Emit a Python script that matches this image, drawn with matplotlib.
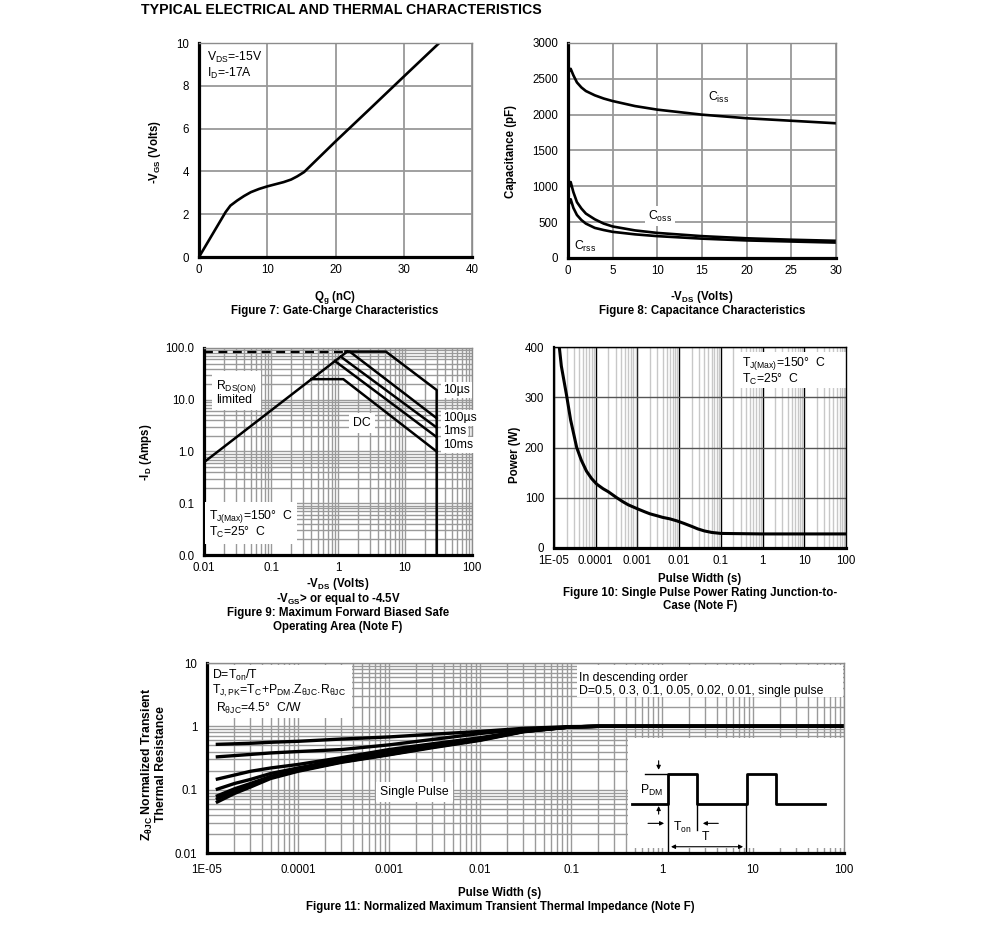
import matplotlib
matplotlib.use('Agg')
import matplotlib.pyplot as plt
import numpy as np
from matplotlib.patches import Rectangle
from matplotlib.ticker import LogLocator, NullFormatter, FuncFormatter

plt.rcParams['font.family'] = ['Liberation Sans', 'DejaVu Sans']
plt.rcParams['mathtext.fontset'] = 'custom'
plt.rcParams['mathtext.rm'] = 'Liberation Sans'
plt.rcParams['mathtext.default'] = 'regular'

TICK = 8.3
ANN = 8.8
LAB = 8.3

# figure 7 - gate charge
qg = [0, 3.9, 4.6, 5.6, 6.6, 7.6, 8.8, 10, 11.2, 12.4, 13.5, 14.4, 15.4, 20, 25, 30, 35.2]
vgs = [0, 2.1, 2.4, 2.64, 2.85, 3.03, 3.18, 3.3, 3.4, 3.5, 3.62, 3.77, 3.97, 5.4, 6.91, 8.43, 10]

# figure 8 - capacitance
vds_c = [0, 0.3, 0.6, 1, 1.5, 2, 3, 4, 5, 7.5, 10, 15, 20, 25, 30]
ciss = [2580, 2640, 2550, 2450, 2380, 2330, 2270, 2225, 2190, 2120, 2070, 2000, 1950, 1915, 1880]
coss = [950, 1060, 920, 780, 690, 620, 540, 480, 440, 385, 350, 305, 275, 255, 240]
crss = [720, 820, 700, 600, 530, 480, 420, 390, 365, 330, 305, 270, 245, 230, 215]

# figure 9 - safe operating area
rds_v = [0.01, 1.37]
rds_i = [0.62, 85]
lim_v = [0.01, 1.45]
lim_i = [85, 85]
us10_v = [1.3, 5.2, 29.7, 29.7]
us10_i = [85, 85, 15.4, 0.01]
us100_v = [1.3, 1.5, 29.7]
us100_i = [85, 85, 4.4]
ms1_v = [1.1, 29.7]
ms1_i = [68, 2.9]
ms10_v = [0.9, 29.7]
ms10_i = [56, 1.9]
dc_v = [0.40, 1.2, 29.7]
dc_i = [25, 25, 1.0]
soa_ticks = [0.01, 0.1, 1, 10, 100]
soa_xlabels = ['0.01', '0.1', '1', '10', '100']

# figure 10 - single pulse power
pw = [1.34e-5, 1.5e-5, 2e-5, 2.5e-5, 3.5e-5, 4.5e-5, 6e-5, 8e-5, 1.06e-4, 1.5e-4, 2e-4,
      3.2e-4, 4.5e-4, 6e-4, 1e-3, 1.5e-3, 2e-3, 3e-3, 4e-3, 6e-3, 8.8e-3, 1.3e-2, 2e-2,
      2.8e-2, 4e-2, 6e-2, 0.1, 1, 10, 100]
pwr = [400, 362, 304, 255, 200, 175, 153, 138, 127, 118, 112, 100, 92, 86, 78, 72, 68, 64,
       61, 58, 54, 49, 43, 38, 34, 31, 29, 28, 28, 28]
t_ticks = [1e-5, 1e-4, 1e-3, 1e-2, 0.1, 1, 10, 100]
t_labels = ['1E-05', '0.0001', '0.001', '0.01', '0.1', '1', '10', '100']

# figure 11 - transient thermal impedance
zt = [1.3e-5, 2e-5, 3e-5, 5e-5, 1e-4, 3e-4, 1e-3, 3e-3, 1e-2, 3e-2, 0.1, 0.2, 1, 10, 100]
z_d05 = [0.52, 0.53, 0.54, 0.56, 0.58, 0.63, 0.68, 0.75, 0.83, 0.93, 0.99, 1.0, 1.0, 1.0, 1.0]
z_d03 = [0.33, 0.345, 0.36, 0.38, 0.40, 0.43, 0.51, 0.62, 0.77, 0.90, 0.98, 1.0, 1.0, 1.0, 1.0]
z_d01 = [0.147, 0.17, 0.195, 0.22, 0.25, 0.32, 0.43, 0.53, 0.66, 0.85, 0.98, 1.0, 1.0, 1.0, 1.0]
z_d005 = [0.102, 0.125, 0.145, 0.18, 0.22, 0.30, 0.40, 0.50, 0.64, 0.84, 0.98, 1.0, 1.0, 1.0, 1.0]
z_d002 = [0.080, 0.103, 0.125, 0.162, 0.205, 0.28, 0.37, 0.48, 0.62, 0.83, 0.98, 1.0, 1.0, 1.0, 1.0]
z_d001 = [0.072, 0.095, 0.117, 0.155, 0.20, 0.275, 0.36, 0.47, 0.61, 0.83, 0.98, 1.0, 1.0, 1.0, 1.0]
z_single = [0.064, 0.087, 0.11, 0.15, 0.195, 0.27, 0.355, 0.46, 0.60, 0.82, 0.98, 1.0, 1.0, 1.0, 1.0]
z_yticks = [0.01, 0.1, 1, 10]
z_ylabels = ['0.01', '0.1', '1', '10']

# inset pulse sketch (axes fraction)
pulse_x = [0.667, 0.724, 0.724, 0.770, 0.770, 0.847, 0.847, 0.894, 0.894, 0.970]
pulse_y = [0.256, 0.256, 0.416, 0.416, 0.256, 0.256, 0.416, 0.416, 0.256, 0.256]

W, H = 991, 942
fig = plt.figure(figsize=(W / 100, H / 100), dpi=100)


def add_ax(r):
    l, t, rr, b = r
    return fig.add_axes([l / W, 1 - b / H, (rr - l) / W, (b - t) / H])


def afr(r, x, y):
    l, t, rr, b = r
    return (x - l) / (rr - l), (b - y) / (b - t)


def ftxt(x, y, s, **kw):
    kw.setdefault('ha', 'center')
    kw.setdefault('va', 'center')
    kw.setdefault('fontsize', LAB)
    fig.text(x / W, 1 - y / H, s, **kw)


def style(ax, edge='#8c8c8c'):
    for s in ['top', 'right']:
        ax.spines[s].set_color(edge)
        ax.spines[s].set_linewidth(1.0)
    for s in ['left', 'bottom']:
        ax.spines[s].set_color('black')
        ax.spines[s].set_linewidth(2.3)
    ax.tick_params(which='both', length=0, labelsize=TICK)
    ax.tick_params(axis='x', pad=5)
    ax.tick_params(axis='y', pad=7)
    ax.set_axisbelow(True)


def log_minor(ax):
    for a in [ax.xaxis, ax.yaxis]:
        a.set_minor_locator(LogLocator(base=10, subs=np.arange(2, 10), numticks=20))
        a.set_minor_formatter(NullFormatter())


ftxt(141, 10, 'TYPICAL ELECTRICAL AND THERMAL CHARACTERISTICS', ha='left',
     fontsize=10.2, fontweight='bold')

# ---- figure 7
R7 = (199, 43, 472, 257)
ax7 = add_ax(R7)
ax7.plot(qg, vgs, color='black', lw=1.9)
ax7.set_xlim(0, 40)
ax7.set_ylim(0, 10)
ax7.set_xticks([0, 10, 20, 30, 40])
ax7.set_yticks([0, 2, 4, 6, 8, 10])
ax7.grid(color='#999999', lw=1.3)
style(ax7)
ax7.text(*afr(R7, 207, 57), r'V$_{DS}$=-15V', fontsize=ANN, va='center', transform=ax7.transAxes)
ax7.text(*afr(R7, 207, 73), r'I$_{D}$=-17A', fontsize=ANN, va='center', transform=ax7.transAxes)
ftxt(155, 152, r'-V$_{GS}$ (Volts)', rotation=90, fontweight='bold')
ftxt(335, 297, r'Q$_{g}$ (nC)', fontweight='bold')
ftxt(335, 311, 'Figure 7: Gate-Charge Characteristics', fontweight='bold')

# ---- figure 8
R8 = (568, 43, 836, 258)
ax8 = add_ax(R8)
for c in [ciss, coss, crss]:
    ax8.plot(vds_c, c, color='black', lw=1.9)
ax8.set_xlim(0, 30)
ax8.set_ylim(0, 3000)
ax8.set_xticks(range(0, 31, 5))
ax8.set_yticks(range(0, 3001, 500))
ax8.grid(color='#999999', lw=1.3)
style(ax8)
ax8.text(*afr(R8, 708, 97), r'C$_{iss}$', fontsize=ANN, va='center', transform=ax8.transAxes)
ax8.text(*afr(R8, 648, 216), r'C$_{oss}$', fontsize=ANN, va='center', transform=ax8.transAxes,
         bbox=dict(fc='white', ec='none', pad=2))
ax8.text(*afr(R8, 574, 246), r'C$_{rss}$', fontsize=ANN, va='center', transform=ax8.transAxes)
ftxt(511, 152, 'Capacitance (pF)', rotation=90, fontweight='bold')
ftxt(702, 297, r'-V$_{DS}$ (Volts)', fontweight='bold')
ftxt(702, 311, 'Figure 8: Capacitance Characteristics', fontweight='bold')

# ---- figure 9
R9 = (204, 348, 472, 555)
ax9 = add_ax(R9)
ax9.set_xscale('log')
ax9.set_yscale('log')
ax9.plot(lim_v, lim_i, color='black', lw=1.6, ls=(0, (4, 2.5)))
for v, i in [(rds_v, rds_i), (us10_v, us10_i), (us100_v, us100_i),
             (ms1_v, ms1_i), (ms10_v, ms10_i), (dc_v, dc_i)]:
    ax9.plot(v, i, color='black', lw=1.8)
ax9.set_xlim(0.01, 100)
ax9.set_ylim(0.01, 100)
ax9.set_xticks(soa_ticks, soa_xlabels)
ax9.set_yticks(soa_ticks)
ax9.yaxis.set_major_formatter(FuncFormatter(lambda v, p: f'{v:.1f}'))
log_minor(ax9)
ax9.grid(which='both', color='#9a9a9a', lw=1.0)
style(ax9)
bb = dict(fc='white', ec='none', pad=1.5)
ax9.text(*afr(R9, 216, 392), 'R$_{DS(ON)}$\nlimited', fontsize=ANN, va='center',
         linespacing=0.85, transform=ax9.transAxes, bbox=dict(fc='white', ec='none', pad=3))
ax9.text(*afr(R9, 353, 423), 'DC', fontsize=ANN, va='center', transform=ax9.transAxes,
         bbox=dict(fc='white', ec='none', pad=3))
for yy, s in [(390, '10µs'), (418, '100µs'), (431, '1ms'), (445, '10ms')]:
    ax9.text(*afr(R9, 443, yy), s, fontsize=ANN, va='center', transform=ax9.transAxes, bbox=bb)
ax9.text(*afr(R9, 209, 524), 'T$_{J(Max)}$=150°  C\nT$_{C}$=25°  C', fontsize=ANN,
         va='center', linespacing=1.0, transform=ax9.transAxes,
         bbox=dict(fc='white', ec='none', pad=3))
ftxt(146, 452, r'-I$_{D}$ (Amps)', rotation=90, fontweight='bold')
ftxt(338, 584, r'-V$_{DS}$ (Volts)', fontweight='bold')
ftxt(338, 599, r'-V$_{GS}$> or equal to -4.5V', fontweight='bold')
ftxt(338, 613, 'Figure 9: Maximum Forward Biased Safe', fontweight='bold')
ftxt(338, 627, 'Operating Area (Note F)', fontweight='bold')

# ---- figure 10
R10 = (554, 347, 846, 548)
ax10 = add_ax(R10)
ax10.set_xscale('log')
ax10.plot(pw, pwr, color='black', lw=2.2)
ax10.set_xlim(1e-5, 100)
ax10.set_ylim(0, 400)
ax10.set_xticks(t_ticks, t_labels)
ax10.set_yticks(range(0, 401, 100))
ax10.xaxis.set_minor_locator(LogLocator(base=10, subs=np.arange(2, 10), numticks=20))
ax10.xaxis.set_minor_formatter(NullFormatter())
ax10.grid(which='minor', axis='x', color='#c8c8c8', lw=1.0)
ax10.grid(which='major', axis='x', color='black', lw=1.0)
ax10.grid(which='major', axis='y', color='#555555', lw=1.0)
style(ax10, edge='black')
ax10.spines['left'].set_linewidth(1.6)
ax10.add_patch(Rectangle(afr(R10, 737, 388), (846 - 737) / 292, (388 - 352) / 201,
                         transform=ax10.transAxes, fc='white', ec='none', zorder=1.5))
ax10.text(*afr(R10, 742, 364), 'T$_{J(Max)}$=150°  C', fontsize=ANN, va='center',
          transform=ax10.transAxes)
ax10.text(*afr(R10, 742, 379), 'T$_{C}$=25°  C', fontsize=ANN, va='center',
          transform=ax10.transAxes)
ftxt(515, 455, 'Power (W)', rotation=90, fontweight='bold')
ftxt(700, 579, 'Pulse Width (s)', fontweight='bold')
ftxt(700, 593, 'Figure 10: Single Pulse Power Rating Junction-to-', fontweight='bold')
ftxt(700, 606, 'Case (Note F)', fontweight='bold')

# ---- figure 11
R11 = (207, 663, 844, 853)
ax11 = add_ax(R11)
ax11.set_xscale('log')
ax11.set_yscale('log')
for z in [z_d05, z_d03, z_d01, z_d005, z_d002, z_d001, z_single]:
    ax11.plot(zt, z, color='black', lw=2.4)
ax11.set_xlim(1e-5, 100)
ax11.set_ylim(0.01, 10)
ax11.set_xticks(t_ticks, t_labels)
ax11.set_yticks(z_yticks, z_ylabels)
log_minor(ax11)
ax11.grid(which='both', color='#9a9a9a', lw=1.0)
style(ax11)
ax11.tick_params(axis='x', pad=8)
for l, t, r, b in [(208, 665, 352, 718), (577, 665, 843, 697), (628, 738, 844, 848)]:
    ax11.add_patch(Rectangle(afr(R11, l, b), (r - l) / 637, (b - t) / 190,
                             transform=ax11.transAxes, fc='white', ec='none', zorder=1.5))
ax11.text(*afr(R11, 212, 675), 'D=T$_{on}$/T', fontsize=ANN, va='center', transform=ax11.transAxes)
ax11.text(*afr(R11, 212, 691), 'T$_{J,PK}$=T$_{C}$+P$_{DM}$.Z$_{θJC}$.R$_{θJC}$', fontsize=ANN,
          va='center', transform=ax11.transAxes)
ax11.text(*afr(R11, 216, 708), 'R$_{θJC}$=4.5°  C/W', fontsize=ANN, va='center',
          transform=ax11.transAxes)
ax11.text(*afr(R11, 579, 678), 'In descending order', fontsize=ANN, va='center',
          transform=ax11.transAxes)
ax11.text(*afr(R11, 579, 691), 'D=0.5, 0.3, 0.1, 0.05, 0.02, 0.01, single pulse', fontsize=ANN,
          va='center', transform=ax11.transAxes)
ax11.text(*afr(R11, 380, 792), 'Single Pulse', fontsize=ANN, va='center', transform=ax11.transAxes,
          bbox=dict(fc='white', ec='none', pad=3))

# pulse sketch
tA = ax11.transAxes
ax11.plot(pulse_x, pulse_y, color='black', lw=2.0, transform=tA, zorder=3)
ax11.plot([0.687, 0.724], [0.416, 0.416], color='black', lw=1.0, transform=tA, zorder=3)
ax11.plot([0.769, 0.769], [0.256, 0.121], color='black', lw=1.0, transform=tA, zorder=3)
ax11.plot([0.724, 0.724], [0.256, 0.0], color='black', lw=1.0, transform=tA, zorder=3)
ax11.plot([0.846, 0.846], [0.256, 0.0], color='black', lw=1.0, transform=tA, zorder=3)
ap = dict(arrowstyle='-|>', color='black', lw=0.8, mutation_scale=6)
ax11.annotate('', xy=(0.709, 0.423), xytext=(0.709, 0.50), xycoords=tA, arrowprops=ap)
ax11.annotate('', xy=(0.709, 0.262), xytext=(0.709, 0.19), xycoords=tA, arrowprops=ap)
ax11.annotate('', xy=(0.722, 0.156), xytext=(0.688, 0.156), xycoords=tA, arrowprops=ap)
ax11.annotate('', xy=(0.774, 0.156), xytext=(0.807, 0.156), xycoords=tA, arrowprops=ap)
ax11.annotate('', xy=(0.724, 0.033), xytext=(0.846, 0.033), xycoords=tA,
              arrowprops=dict(arrowstyle='<|-|>', color='black', lw=0.8, mutation_scale=6))
ax11.text(0.698, 0.33, 'P$_{DM}$', fontsize=ANN, ha='center', va='center', transform=tA)
ax11.text(0.746, 0.135, 'T$_{on}$', fontsize=ANN, ha='center', va='center', transform=tA)
ax11.text(0.783, 0.086, 'T', fontsize=ANN, ha='center', va='center', transform=tA)

ftxt(147, 764, 'Z$_{θJC}$ Normalized Transient', rotation=90, fontweight='bold', fontsize=8.8)
ftxt(161, 764, 'Thermal Resistance', rotation=90, fontweight='bold', fontsize=8.8)
ftxt(500, 893, 'Pulse Width (s)', fontweight='bold')
ftxt(500, 907, 'Figure 11: Normalized Maximum Transient Thermal Impedance (Note F)',
     fontweight='bold')

fig.savefig('out.png', dpi=100, facecolor='white')
